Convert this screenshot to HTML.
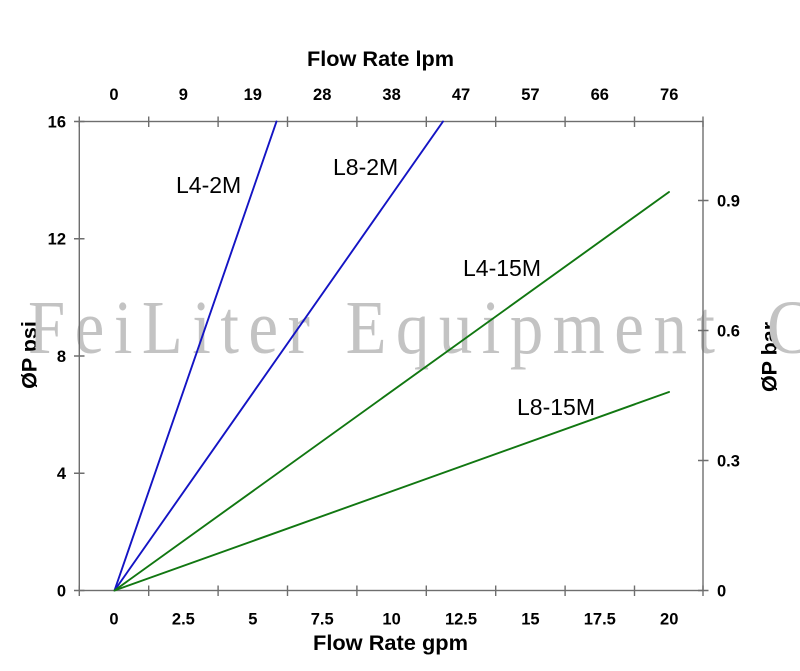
<!DOCTYPE html>
<html>
<head>
<meta charset="utf-8">
<style>
  html, body { margin:0; padding:0; background:#ffffff; }
  svg { display:block; }
  .tk { font-family:"Liberation Sans", Arial, sans-serif; font-weight:bold; font-size:16.5px; fill:#000; }
  .ttl { font-family:"Liberation Sans", Arial, sans-serif; font-weight:bold; font-size:21.5px; fill:#000; }
  .lbl { font-family:"Liberation Sans", Arial, sans-serif; font-size:23px; fill:#000; }
  .wm { font-family:"Liberation Serif", "Times New Roman", serif; font-size:76px; fill:#c3c3c3; }
</style>
</head>
<body>
<svg width="800" height="671" viewBox="0 0 800 671" xmlns="http://www.w3.org/2000/svg">
  <rect x="0" y="0" width="800" height="671" fill="#ffffff"/>

  <!-- Axis titles -->
  <text class="ttl" x="307" y="66" textLength="147" lengthAdjust="spacingAndGlyphs">Flow Rate lpm</text>
  <text class="ttl" x="313" y="650" textLength="155" lengthAdjust="spacingAndGlyphs">Flow Rate gpm</text>
  <text class="ttl" text-anchor="middle" transform="translate(36.5,355) rotate(-90)" font-size="20">ØP psi</text>
  <text class="ttl" text-anchor="middle" transform="translate(776.5,357) rotate(-90)" font-size="20">ØP bar</text>

  <!-- Watermark -->
  <g transform="scale(0.88,1)">
    <text class="wm" x="31.8" y="353" textLength="780.7" lengthAdjust="spacing">FeiLiter Equipment</text>
    <text class="wm" x="871.6" y="353">C</text>
  </g>

  <!-- Frame -->
  <g stroke="#6e6e6e" stroke-width="1.4" fill="none">
    <rect x="79.3" y="121.5" width="623.7" height="469"/>
    <path d="M79.3 585.5V596 M148.7 585.5V596 M218.1 585.5V596 M287.5 585.5V596 M356.9 585.5V596 M426.3 585.5V596 M495.7 585.5V596 M565.1 585.5V596 M634.5 585.5V596 M703 585.5V596"/>
    <path d="M79.3 116.5V127 M148.7 116.5V127 M218.1 116.5V127 M287.5 116.5V127 M356.9 116.5V127 M426.3 116.5V127 M495.7 116.5V127 M565.1 116.5V127 M634.5 116.5V127 M703 116.5V127"/>
    <path d="M74 121.5H84.5 M74 238.75H84.5 M74 356H84.5 M74 473.25H84.5 M74 590.5H84.5"/>
    <path d="M698 590.5H708.5 M698 460.5H708.5 M698 330.5H708.5 M698 200.5H708.5"/>
  </g>

  <!-- Bottom tick labels -->
  <g class="tk" text-anchor="middle">
    <text x="114" y="624.5">0</text>
    <text x="183.4" y="624.5">2.5</text>
    <text x="252.8" y="624.5">5</text>
    <text x="322.2" y="624.5">7.5</text>
    <text x="391.6" y="624.5">10</text>
    <text x="461" y="624.5">12.5</text>
    <text x="530.4" y="624.5">15</text>
    <text x="599.8" y="624.5">17.5</text>
    <text x="669.2" y="624.5">20</text>
  </g>
  <!-- Top tick labels -->
  <g class="tk" text-anchor="middle">
    <text x="114" y="100">0</text>
    <text x="183.4" y="100">9</text>
    <text x="252.8" y="100">19</text>
    <text x="322.2" y="100">28</text>
    <text x="391.6" y="100">38</text>
    <text x="461" y="100">47</text>
    <text x="530.4" y="100">57</text>
    <text x="599.8" y="100">66</text>
    <text x="669.2" y="100">76</text>
  </g>
  <!-- Left tick labels -->
  <g class="tk" text-anchor="end">
    <text x="66" y="127.3">16</text>
    <text x="66" y="244.5">12</text>
    <text x="66" y="361.8">8</text>
    <text x="66" y="479">4</text>
    <text x="66" y="596.3">0</text>
  </g>
  <!-- Right tick labels -->
  <g class="tk" text-anchor="start">
    <text x="717" y="596.3">0</text>
    <text x="717" y="466.3">0.3</text>
    <text x="717" y="336.3">0.6</text>
    <text x="717" y="206.5">0.9</text>
  </g>

  <!-- Series -->
  <g fill="none" stroke-width="1.9" stroke-linecap="round">
    <line x1="114.5" y1="590.5" x2="276.5" y2="121.5" stroke="#1414c4"/>
    <line x1="114.5" y1="590.5" x2="443" y2="121.5" stroke="#1414c4"/>
    <line x1="114.5" y1="590.5" x2="669" y2="192" stroke="#117711"/>
    <line x1="114.5" y1="590.5" x2="669" y2="392" stroke="#117711"/>
  </g>

  <!-- Series labels -->
  <text class="lbl" x="176" y="193">L4-2M</text>
  <text class="lbl" x="333" y="175">L8-2M</text>
  <text class="lbl" x="463" y="276">L4-15M</text>
  <text class="lbl" x="517" y="415">L8-15M</text>
</svg>
</body>
</html>
